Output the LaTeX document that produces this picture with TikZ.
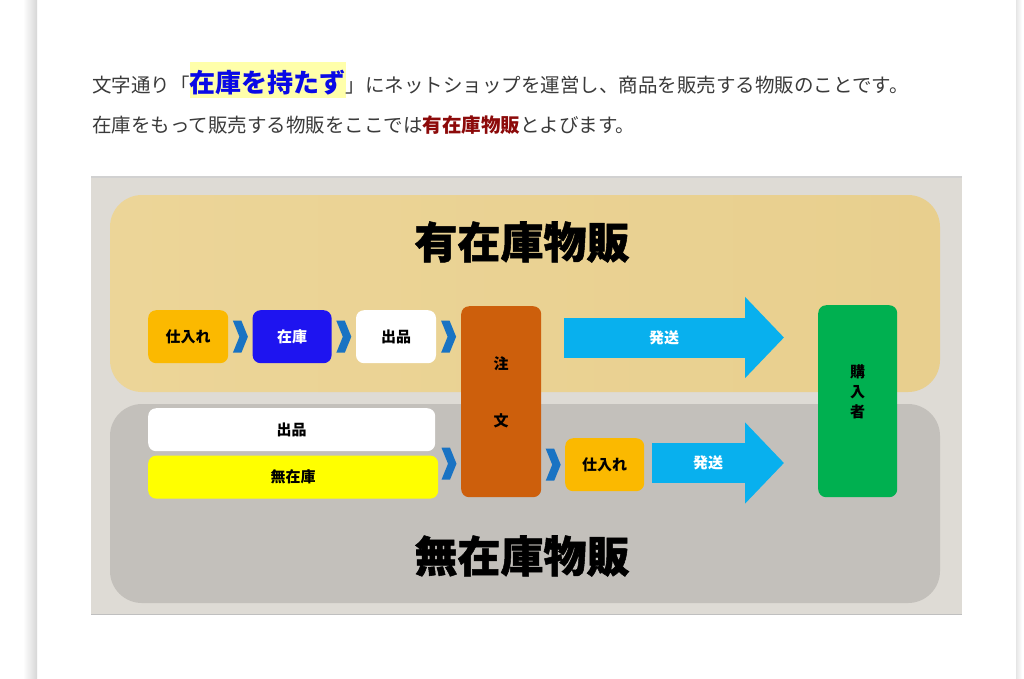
\documentclass[tikz,border=0pt]{standalone}
\usepackage{fontspec}
\setmainfont{Noto Sans CJK JP}
\newfontfamily\heavyfont{Noto Sans CJK JP}[BoldFeatures={FakeBold=1.2}]
\usetikzlibrary{positioning, calc, arrows.meta}
\definecolor{bodytext}{RGB}{58,58,58}
\definecolor{hlyellow}{RGB}{255,255,170}
\definecolor{hlblue}{RGB}{10,10,230}
\definecolor{darkred}{RGB}{140,10,10}
\definecolor{framegray}{RGB}{222,219,213}
\definecolor{tanA}{RGB}{236,213,152}
\definecolor{tanB}{RGB}{242,223,172}
\definecolor{tanC}{RGB}{232,207,142}
\definecolor{panelgray}{RGB}{195,192,187}
\definecolor{buyorange}{RGB}{251,185,0}
\definecolor{stockblue}{RGB}{30,20,240}
\definecolor{orderbrown}{RGB}{205,95,12}
\definecolor{shipblue}{RGB}{8,176,238}
\definecolor{chevblue}{RGB}{25,115,195}
\definecolor{buyergreen}{RGB}{0,176,80}
\definecolor{nostockyellow}{RGB}{255,255,0}
\tikzset{
x=1pt, y=-1pt, % one unit is one pixel of the page, y runs down
box/.style={rounded corners=8pt, inner sep=0pt, anchor=north west,
  font=\bfseries\fontsize{15}{18}\selectfont}, % every coloured box
boxtext/.style={inner sep=0pt, font=\bfseries\fontsize{15}{20}\selectfont, align=center},
title/.style={font=\heavyfont\bfseries\fontsize{43}{50}\selectfont}, % big panel titles
shiparrow/.style={shipblue, line width=40pt, -{Triangle[length=39pt, width=79pt]}},
chevron/.pic={\fill[chevblue] (-7.5,-16) -- (1,-16) -- (7.5,0) -- (1,16) -- (-7.5,16) -- (-1,0) -- cycle;},
}
\begin{document}
\begin{tikzpicture}
\useasboundingbox (0,0) rectangle (1024,678);
\fill[white] (0,0) rectangle (1024,678);
% card edges
\shade[left color=white, right color=black!16] (23,0) rectangle (37,678);
\shade[left color=black!10, right color=white] (1016,0) rectangle (1022,678);

% intro text
\node[anchor=base west, inner sep=0pt, text=bodytext, font=\fontsize{19.5}{24}\selectfont] (line1) at (92,92)
  {文字通り「{\setlength\fboxsep{0pt}\colorbox{hlyellow}{\rule[-6pt]{0pt}{36pt}\bfseries\fontsize{26}{30}\selectfont\color{hlblue}在庫を持たず}}」にネットショップを運営し、商品を販売する物販のことです。};
\node[anchor=base west, inner sep=0pt, text=bodytext, font=\fontsize{19.5}{24}\selectfont] (line2) at (92,132)
  {在庫をもって販売する物販をここでは{\bfseries\color{darkred}有在庫物販}とよびます。};

% frame and panels
\fill[framegray] (91,176) rectangle (962,614);
\draw[black!18, line width=2pt] (91,177) -- (962,177);
\draw[black!25] (91,614) -- (962,614);
\shade[rounded corners=32pt, left color=tanA, middle color=tanB, right color=tanC] (110,195) rectangle (940,392);
\fill[panelgray, rounded corners=32pt] (110,404) rectangle (940,603);
\node[title] (withstock) at (522,242) {有在庫物販};
\node[title] (nostocktitle) at (522,556) {無在庫物販};

% upper row
\node[box, fill=buyorange, minimum width=80pt, minimum height=53pt] (buy1) at (148,310) {仕入れ};
\node[box, fill=stockblue, text=white, minimum width=79pt, minimum height=53pt, right=24pt of buy1] (stock1) {在庫};
\node[box, fill=white, minimum width=80pt, minimum height=53pt, right=24pt of stock1] (list1) {出品};
\node[box, fill=orderbrown, minimum width=80pt, minimum height=191pt,
  label={[boxtext, yshift=38.5pt]center:注}, label={[boxtext, yshift=-19.5pt]center:文}] (order) at (461,306) {};
\node[box, fill=buyergreen, minimum width=79pt, minimum height=192pt,
  label={[boxtext, yshift=9pt]center:購\\入\\者}] (buyer) at (818,305) {};
\pic at ($(buy1.east)!0.5!(stock1.west)$) {chevron};
\pic at ($(stock1.east)!0.5!(list1.west)$) {chevron};
\pic at ($(list1.east)!0.5!(order.west|-list1.east)$) {chevron};
\coordinate (ship1s) at (564,337.5);
\coordinate (ship1e) at (784,337.5);
\draw[shiparrow] (ship1s) -- (ship1e);
\node[boxtext, text=white] (ship1) at (664,337.5) {発送};

% lower row
\node[box, fill=white, minimum width=287pt, minimum height=43pt] (list2) at (148,408) {出品};
\node[box, fill=nostockyellow, minimum width=290pt, minimum height=43pt, below=4pt of list2.south west, anchor=north west] (nostock) {無在庫};
\node[box, fill=buyorange, minimum width=79pt, minimum height=53pt] (buy2) at (565,438) {仕入れ};
\pic at ($(order.west|-buy2.west)+(-12,-1)$) {chevron};
\pic at ($(order.east|-buy2.west)!0.5!(buy2.west)$) {chevron};
\coordinate (ship2s) at (652,463);
\coordinate (ship2e) at (784,463);
\draw[shiparrow] (ship2s) -- (ship2e);
\node[boxtext, text=white] (ship2) at (708,463) {発送};
\end{tikzpicture}
\end{document}
